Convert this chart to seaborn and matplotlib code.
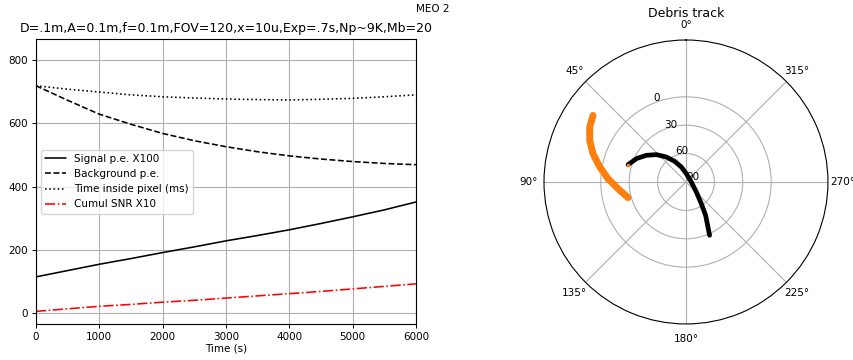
import numpy as np
import pandas as pd
import matplotlib
matplotlib.use("Agg")
import matplotlib.pyplot as plt
import seaborn as sns

sns.set_style("ticks")
plt.rcParams['font.family'] = ['DejaVu Sans']
plt.rcParams['text.color'] = 'black'
plt.rcParams['axes.labelcolor'] = 'black'
plt.rcParams['xtick.color'] = 'black'
plt.rcParams['ytick.color'] = 'black'

# ---- left panel data ----
time_s = [0, 500, 1000, 1500, 2000, 2500, 3000, 3500, 4000, 4500, 5000, 5500, 6000]
signal_x100 = [114, 134, 154, 172, 191, 209, 228, 245, 263, 283, 304, 326, 351]
background = [719, 673, 629, 597, 568, 545, 526, 510, 497, 487, 479, 473, 469]
time_in_pixel = [719, 708, 699, 690, 684, 680, 677, 675, 674, 676, 679, 684, 690]
cumul_snr_x10 = [5, 13, 21, 27, 34, 40, 47, 54, 61, 68, 76, 84, 92]

# ---- right panel data (azimuth deg, elevation deg) ----
black_az = [73.4, 64.8, 56.1, 47.3, 38.2, 28.7, 17.3, -2.3, -90.0, -134.0,
            -144.7, -149.5, -156.1]
black_el = [26.1, 32.1, 39.5, 47.4, 56.4, 65.1, 73.4, 81.2, 84.4, 74.8,
            62.0, 49.1, 28.4]
orange_az = [54.4, 60.3, 66.6, 73.1, 80.1, 87.6, 95.6, 105.1]
orange_el = [-30.8, -27.1, -20.8, -12.7, -2.5, 7.6, 17.8, 26.6]
r_ticks = [90, 60, 30, 0]

fig = plt.figure(figsize=(8.54, 3.6), dpi=100)
ax = fig.add_axes([0.042, 0.1, 0.445, 0.791])

series = [
    ("Signal p.e. X100", signal_x100, "k", "-"),
    ("Background p.e.", background, "k", "--"),
    ("Time inside pixel (ms)", time_in_pixel, "k", ":"),
    ("Cumul SNR X10", cumul_snr_x10, "red", "-."),
]
for label, vals, col, ls in series:
    sns.lineplot(x=time_s, y=vals, ax=ax, color=col, linestyle=ls,
                 linewidth=1.15, label=label)

ax.set_xlim(0, 6000)
ax.set_ylim(-35, 866)
ax.set_xticks([0, 1000, 2000, 3000, 4000, 5000, 6000])
ax.set_yticks([0, 200, 400, 600, 800])
ax.grid(True, color="#b0b0b0", linewidth=0.8)
ax.tick_params(labelsize=7.5, length=3, width=0.7, pad=2.5, colors="black")
ax.set_xlabel("Time (s)", fontsize=7.5, labelpad=1)
ax.set_ylabel("")
ax.set_title("D=.1m,A=0.1m,f=0.1m,FOV=120,x=10u,Exp=.7s,Np~9K,Mb=20",
             fontsize=9, pad=5)
for s in ax.spines.values():
    s.set_color("k")
    s.set_linewidth(0.8)
leg = ax.legend(loc="center left", fontsize=7.5, frameon=True, fancybox=True,
                handlelength=2.0)
leg.get_frame().set_edgecolor("#cccccc")

fig.text(0.507, 0.99, "MEO 2", ha="center", va="top", fontsize=7.5)

# ---- polar panel ----
pax = fig.add_axes([0.637, 0.1, 0.3325, 0.789], projection="polar")
pax.set_theta_zero_location("N")
pax.set_theta_direction(1)
sns.lineplot(x=np.deg2rad(orange_az), y=orange_el, ax=pax, sort=False,
             estimator=None, color="#ff7f0e", linewidth=5,
             solid_capstyle="round")
sns.lineplot(x=np.deg2rad(black_az), y=black_el, ax=pax, sort=False,
             estimator=None, color="k", linewidth=3.4,
             solid_capstyle="round")
pax.plot(np.deg2rad(black_az[0]), black_el[0], "o", color="#ff7f0e",
         markersize=1.6)
pax.set_ylim(90, -60)
pax.set_yticks(r_ticks)
pax.set_yticklabels([str(v) for v in r_ticks])
pax.set_xlabel("")
pax.set_ylabel("")
pax.grid(True, color="#b0b0b0", linewidth=0.8)
pax.tick_params(labelsize=7.5, pad=0.5, colors="black")
pax.set_title("Debris track", fontsize=9, pad=2)
pax.spines["polar"].set_color("k")
pax.spines["polar"].set_linewidth(0.8)

fig.savefig("out.png", dpi=100)
